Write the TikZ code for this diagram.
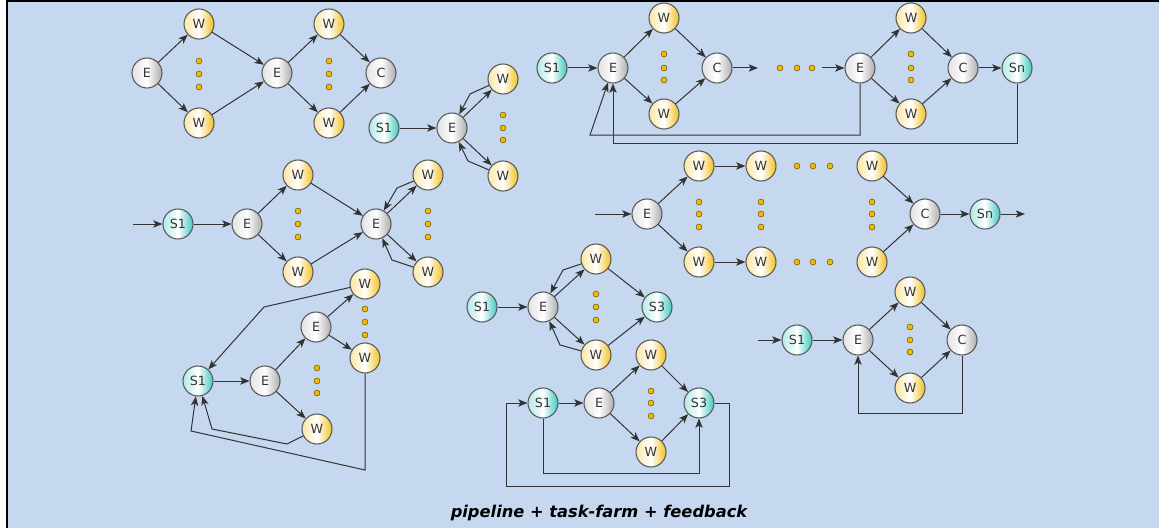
\documentclass[tikz,border=0pt]{standalone}
\usepackage{fontspec}
\setmainfont{DejaVu Sans}
\usetikzlibrary{arrows.meta}

\definecolor{paneblue}{RGB}{197,216,240}
\definecolor{workgold}{RGB}{242,192,28}
\definecolor{stageteal}{RGB}{60,200,192}
\definecolor{boxgray}{RGB}{172,172,172}
\definecolor{rimgray}{RGB}{88,88,88}
\definecolor{dotgold}{RGB}{240,188,0}

\tikzset{
  proc/.style={circle, draw=rimgray, line width=0.8pt, minimum size=22.5pt,
    inner sep=0pt, font=\fontsize{9.5}{10}\selectfont, text=black!80},
  worker/.style={proc, left color=workgold!40, right color=workgold, middle color=white},
  emitter/.style={proc, left color=boxgray!35, right color=boxgray, middle color=white},
  stage/.style={proc, left color=stageteal!40, right color=stageteal, middle color=white},
  flow/.style={line width=0.75pt, draw=black!80,
    -{Stealth[length=7pt,width=5.5pt,inset=1.8pt]}},
  farmdot/.style={fill=dotgold, draw=black!55!dotgold, line width=0.4pt}
}

\begin{document}
\begin{tikzpicture}[x=0.75pt,y=-0.75pt]

% Panel
\useasboundingbox (0,0) rectangle (1159,528);
\fill[paneblue] (7,1) rectangle (1159,528);
\draw[line width=1.6pt] (7,528) -- (7,1) -- (1159,1);

% Two farms in a row
\node[emitter] (a-e1) at (147,73) {E};
\node[worker]  (a-w1) at (199,24) {W};
\node[worker]  (a-w2) at (199,123) {W};
\node[emitter] (a-e2) at (277,73) {E};
\node[worker]  (a-w3) at (329,24) {W};
\node[worker]  (a-w4) at (329,123) {W};
\node[emitter] (a-c)  at (381,73) {C};
\foreach \x in {199,329}
  \foreach \y in {61,74,87}
    \filldraw[farmdot] (\x,\y) circle (2.2pt);
\draw[flow] (a-e1) -- (a-w1);
\draw[flow] (a-e1) -- (a-w2);
\draw[flow] (a-w1) -- (a-e2);
\draw[flow] (a-w2) -- (a-e2);
\draw[flow] (a-e2) -- (a-w3);
\draw[flow] (a-e2) -- (a-w4);
\draw[flow] (a-w3) -- (a-c);
\draw[flow] (a-w4) -- (a-c);

% Farm with workers sending back to the emitter
\node[stage]   (b-s1) at (384,128) {S1};
\node[emitter] (b-e)  at (452,128) {E};
\node[worker]  (b-w1) at (503,79) {W};
\node[worker]  (b-w2) at (503,176) {W};
\foreach \y in {115,128,140}
  \filldraw[farmdot] (503,\y) circle (2.2pt);
\draw[flow] (b-s1) -- (b-e);
\draw[flow] (b-e) -- (b-w1);
\draw[flow] (b-e) -- (b-w2);
\draw[flow] (b-w1) -- (470,94) -- (b-e);
\draw[flow] (b-w2) -- (468,161) -- (b-e);

% Pipeline of farms with feedback to the first emitter
\node[stage]   (c-s1) at (552,68) {S1};
\node[emitter] (c-e1) at (613,68) {E};
\node[worker]  (c-w1) at (664,18) {W};
\node[worker]  (c-w2) at (664,114) {W};
\node[emitter] (c-c1) at (717,68) {C};
\coordinate    (c-gap1) at (758,68);
\coordinate    (c-gap2) at (822,68);
\node[emitter] (c-e2) at (860,68) {E};
\node[worker]  (c-w3) at (911,18) {W};
\node[worker]  (c-w4) at (911,114) {W};
\node[emitter] (c-c2) at (963,68) {C};
\node[stage]   (c-sn) at (1017,68) {Sn};
\coordinate    (c-back) at (590,135);
\foreach \x in {664,911}
  \foreach \y in {54,68,80}
    \filldraw[farmdot] (\x,\y) circle (2.2pt);
\foreach \x in {780,797,812}
  \filldraw[farmdot] (\x,68) circle (2.2pt);
\draw[flow] (c-s1) -- (c-e1);
\draw[flow] (c-e1) -- (c-w1);
\draw[flow] (c-e1) -- (c-w2);
\draw[flow] (c-w1) -- (c-c1);
\draw[flow] (c-w2) -- (c-c1);
\draw[flow] (c-c1) -- (c-gap1);
\draw[flow] (c-gap2) -- (c-e2);
\draw[flow] (c-e2) -- (c-w3);
\draw[flow] (c-e2) -- (c-w4);
\draw[flow] (c-w3) -- (c-c2);
\draw[flow] (c-w4) -- (c-c2);
\draw[flow] (c-c2) -- (c-sn);
\draw[flow] (c-e2.south) |- (c-back) -- (c-e1);
\draw[flow] (c-sn.south) -- ++(0,60) -| (c-e1.south);

% Farm feeding a farm with feedback
\coordinate    (d-in) at (133,224);
\node[stage]   (d-s1) at (178,224) {S1};
\node[emitter] (d-e1) at (247,224) {E};
\node[worker]  (d-w1) at (298,175) {W};
\node[worker]  (d-w2) at (298,272) {W};
\node[emitter] (d-e2) at (376,224) {E};
\node[worker]  (d-w3) at (428,175) {W};
\node[worker]  (d-w4) at (428,272) {W};
\foreach \x in {298,428}
  \foreach \y in {211,224,237}
    \filldraw[farmdot] (\x,\y) circle (2.2pt);
\draw[flow] (d-in) -- (d-s1);
\draw[flow] (d-s1) -- (d-e1);
\draw[flow] (d-e1) -- (d-w1);
\draw[flow] (d-e1) -- (d-w2);
\draw[flow] (d-w1) -- (d-e2);
\draw[flow] (d-w2) -- (d-e2);
\draw[flow] (d-e2) -- (d-w3);
\draw[flow] (d-e2) -- (d-w4);
\draw[flow] (d-w3) -- (397,188) -- (d-e2);
\draw[flow] (d-w4) -- (392,260) -- (d-e2);

% Nested farm looping back to S1
\node[stage]   (f-s1) at (198,381) {S1};
\node[emitter] (f-e1) at (265,381) {E};
\node[emitter] (f-e2) at (316,327) {E};
\node[worker]  (f-w1) at (365,284) {W};
\node[worker]  (f-w2) at (365,358) {W};
\node[worker]  (f-w3) at (317,429) {W};
\foreach \y in {309,322,335}
  \filldraw[farmdot] (365,\y) circle (2.2pt);
\foreach \y in {368,381,393}
  \filldraw[farmdot] (317,\y) circle (2.2pt);
\draw[flow] (f-s1) -- (f-e1);
\draw[flow] (f-e1) -- (f-e2);
\draw[flow] (f-e1) -- (f-w3);
\draw[flow] (f-e2) -- (f-w1);
\draw[flow] (f-e2) -- (f-w2);
\draw[flow] (f-w1) -- (264,307) -- (f-s1);
\draw[flow] (f-w3) -- (287,444) -- (212,429) -- (f-s1);
\draw[flow] (f-w2.south) -- (365,470) -- (191,431) -- (f-s1);

% Farm with workers feeding S3
\node[stage]   (g-s1) at (482,307) {S1};
\node[emitter] (g-e)  at (543,307) {E};
\node[worker]  (g-w1) at (596,259) {W};
\node[worker]  (g-w2) at (596,355) {W};
\node[stage]   (g-s3) at (657,307) {S3};
\foreach \y in {294,307,320}
  \filldraw[farmdot] (596,\y) circle (2.2pt);
\draw[flow] (g-s1) -- (g-e);
\draw[flow] (g-e) -- (g-w1);
\draw[flow] (g-e) -- (g-w2);
\draw[flow] (g-w1) -- (563,270) -- (g-e);
\draw[flow] (g-w2) -- (560,345) -- (g-e);
\draw[flow] (g-w1) -- (g-s3);
\draw[flow] (g-w2) -- (g-s3);

% Pipeline S1 -> farm -> S3 with two loops
\node[stage]   (h-s1) at (543,403) {S1};
\node[emitter] (h-e)  at (599,403) {E};
\node[worker]  (h-w1) at (651,355) {W};
\node[worker]  (h-w2) at (651,452) {W};
\node[stage]   (h-s3) at (699,403) {S3};
\coordinate    (h-back) at (506,486);
\foreach \y in {391,403,416}
  \filldraw[farmdot] (651,\y) circle (2.2pt);
\draw[flow] (h-s1) -- (h-e);
\draw[flow] (h-e) -- (h-w1);
\draw[flow] (h-e) -- (h-w2);
\draw[flow] (h-w1) -- (h-s3);
\draw[flow] (h-w2) -- (h-s3);
\draw[flow] (h-s3.east) -- ++(15,0) |- (h-back) |- (h-s1.west);
\draw[flow] (h-s1.south) -- ++(0,55) -| (h-s3.south);

% Farm of worker pipelines
\coordinate    (k-in) at (595,214);
\node[emitter] (k-e)   at (647,214) {E};
\node[worker]  (k-w11) at (699,166) {W};
\node[worker]  (k-w12) at (761,166) {W};
\node[worker]  (k-w1n) at (872,166) {W};
\node[worker]  (k-w21) at (699,262) {W};
\node[worker]  (k-w22) at (761,262) {W};
\node[worker]  (k-w2n) at (872,262) {W};
\node[emitter] (k-c)   at (925,214) {C};
\node[stage]   (k-sn)  at (985,214) {Sn};
\coordinate    (k-out) at (1025,214);
\foreach \x in {699,761,872}
  \foreach \y in {202,214,227}
    \filldraw[farmdot] (\x,\y) circle (2.2pt);
\foreach \x in {797,813,830}
  \foreach \y in {166,262}
    \filldraw[farmdot] (\x,\y) circle (2.2pt);
\draw[flow] (k-in) -- (k-e);
\draw[flow] (k-e) -- (k-w11);
\draw[flow] (k-e) -- (k-w21);
\draw[flow] (k-w11) -- (k-w12);
\draw[flow] (k-w21) -- (k-w22);
\draw[flow] (k-w1n) -- (k-c);
\draw[flow] (k-w2n) -- (k-c);
\draw[flow] (k-c) -- (k-sn);
\draw[flow] (k-sn) -- (k-out);

% Farm with collector feedback
\coordinate    (m-in) at (758,340);
\node[stage]   (m-s1) at (797,340) {S1};
\node[emitter] (m-e)  at (858,340) {E};
\node[worker]  (m-w1) at (910,292) {W};
\node[worker]  (m-w2) at (910,388) {W};
\node[emitter] (m-c)  at (962,340) {C};
\foreach \y in {327,340,352}
  \filldraw[farmdot] (910,\y) circle (2.2pt);
\draw[flow] (m-in) -- (m-s1);
\draw[flow] (m-s1) -- (m-e);
\draw[flow] (m-e) -- (m-w1);
\draw[flow] (m-e) -- (m-w2);
\draw[flow] (m-w1) -- (m-c);
\draw[flow] (m-w2) -- (m-c);
\draw[flow] (m-c.south) -- ++(0,58) -| (m-e.south);

% Caption
\node[font=\fontsize{12.2}{14}\selectfont\bfseries\itshape] (caption) at (599,513)
  {pipeline + task-farm + feedback};

\end{tikzpicture}
\end{document}
